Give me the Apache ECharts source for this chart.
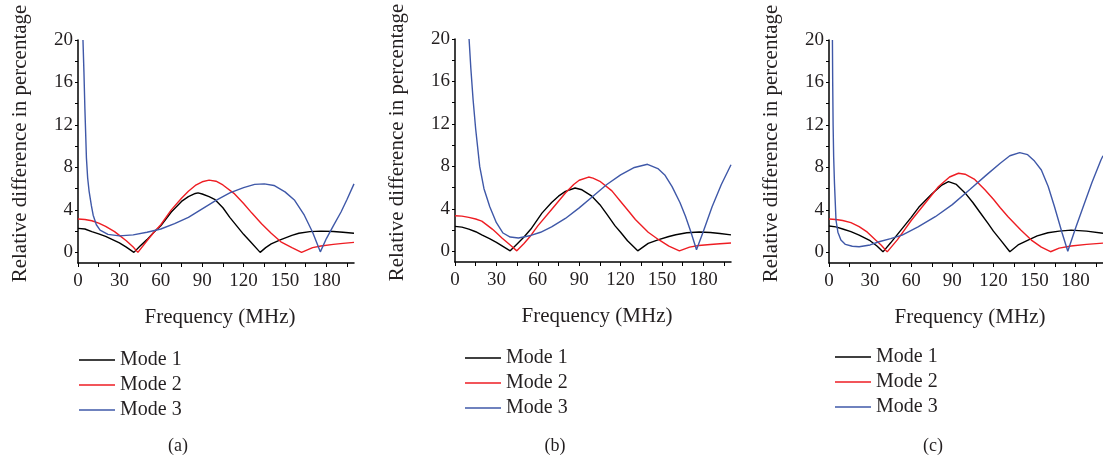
<!DOCTYPE html>
<html>
<head>
<meta charset="utf-8">
<script src="https://cdn.jsdelivr.net/npm/echarts@6/dist/echarts.min.js"></script>
<style>
html,body{margin:0;padding:0;background:#fff;}
#chart{width:1103px;height:464px;}
</style>
</head>
<body>
<div id="chart"></div>
<script>
// Tick labels
const xLabelValues = [0, 30, 60, 90, 120, 150, 180];
const xTickValues = [0, 15, 30, 45, 60, 75, 90, 105, 120, 135, 150, 165, 180, 195];
const yLabelValues = [0, 4, 8, 12, 16, 20];
const yTickValues = [0, 2, 4, 6, 8, 10, 12, 14, 16, 18, 20];
const seriesNames = ['Mode 1', 'Mode 2', 'Mode 3'];
const panelLabels = ['(a)', '(b)', '(c)'];

// Panel (a)  [frequency MHz, relative difference %]
const aMode1 = [[0,2.26],[5,2.2],[10,1.95],[15,1.75],[20,1.5],[25,1.2],[30,0.9],[35,0.5],[40.5,0],[45,0.6],[50,1.2],[55,1.9],[60,2.5],[67.6,3.8],[75,4.8],[80,5.25],[85,5.55],[87,5.6],[90,5.5],[95,5.25],[99,5.0],[105,4.2],[110,3.3],[115,2.5],[120,1.7],[125,1.0],[132,0],[136,0.45],[140,0.8],[147,1.2],[155,1.6],[160,1.8],[168,1.95],[176,2.0],[185,1.97],[192,1.9],[200,1.8]];
const aMode2 = [[0,3.14],[5,3.1],[10,2.98],[15,2.75],[20,2.45],[26.5,1.95],[30,1.6],[35,1.1],[40,0.5],[43.4,0],[50,1.1],[55,1.9],[60,2.6],[67.6,4.0],[75,5.1],[80,5.75],[85,6.3],[90,6.65],[95,6.8],[100,6.7],[105,6.35],[113,5.56],[120,4.6],[126,3.7],[133,2.7],[140,1.8],[147,1.0],[155,0.45],[162,0],[170,0.45],[176,0.6],[185,0.75],[192,0.85],[200,0.94]];
const aMode3 = [[3.6,20],[4.3,17],[5.0,13.5],[5.6,11],[6.1,8.9],[7,7.0],[8,5.8],[9.7,4.4],[11,3.5],[13.3,2.6],[16,2.1],[21.7,1.7],[30,1.55],[40,1.65],[50,1.9],[60,2.2],[70,2.7],[80,3.3],[90,4.1],[100,4.9],[110,5.6],[120,6.1],[128,6.4],[135,6.45],[142,6.3],[150,5.7],[157,4.9],[164,3.5],[170,1.9],[175.6,0.05],[180,1.3],[185,2.5],[190.6,3.8],[195,5.0],[200,6.45]];

// Panel (b)
const bMode1 = [[0,2.35],[5,2.28],[10,2.1],[15,1.85],[19.4,1.55],[25,1.2],[30,0.85],[35,0.45],[40,0.05],[45,0.7],[50,1.35],[55,2.1],[63,3.6],[70,4.6],[75,5.2],[80,5.65],[87,5.97],[92,5.8],[99.2,5.2],[105,4.4],[110,3.5],[116,2.4],[120,1.8],[125,1.0],[132.4,0.05],[140,0.75],[147.6,1.1],[155,1.4],[160,1.57],[168,1.75],[177,1.83],[185,1.78],[192,1.68],[200,1.55]];
const bMode2 = [[0,3.36],[5,3.32],[10,3.2],[15,3.05],[19.4,2.85],[23,2.5],[27,2.1],[30,1.75],[34,1.26],[40,0.6],[44.8,0.05],[50,0.75],[55,1.5],[60,2.4],[70,3.95],[80,5.5],[86,6.3],[90,6.7],[96.8,7.0],[100,6.9],[105,6.6],[113.7,5.7],[120,4.7],[126,3.75],[130.7,3.0],[140,1.8],[147.6,1.1],[155,0.5],[162.6,0.05],[170,0.4],[176.6,0.55],[185,0.65],[192,0.72],[200,0.79]];
const bMode3 = [[10.2,20],[11.5,17.2],[13.1,14.3],[15,11.5],[17.9,8.0],[21,5.9],[25.2,4.2],[30,2.7],[34.8,1.73],[40,1.35],[46,1.26],[55,1.5],[62,1.8],[70,2.3],[80,3.1],[90,4.1],[100,5.2],[110,6.3],[120,7.2],[130,7.9],[139.5,8.2],[147,7.8],[152,7.2],[157.3,6.1],[163,4.6],[167,3.3],[171,1.8],[175,0.15],[180,1.9],[186.3,4.2],[193,6.3],[200,8.16]];

// Panel (c)
const cMode1 = [[0,2.48],[5,2.4],[10,2.2],[16,1.95],[22,1.63],[30,1.1],[35,0.6],[39.4,0.05],[45,0.9],[50,1.7],[55,2.5],[60,3.3],[65.5,4.24],[75,5.5],[82,6.3],[87.2,6.66],[93,6.4],[99.3,5.6],[105,4.7],[110,3.8],[116.2,2.7],[120,2.0],[125,1.2],[132,0.06],[138,0.7],[145.3,1.16],[152,1.55],[159.8,1.85],[168,2.0],[176.7,2.1],[188,2.0],[200,1.8]];
const cMode2 = [[0,3.14],[5,3.1],[10,3.0],[16,2.8],[22,2.42],[28,1.9],[34,1.16],[38,0.7],[42.5,0.05],[50,1.2],[55,2.1],[60,3.0],[70,4.6],[80,6.2],[88,7.1],[94.5,7.45],[99.3,7.36],[106,6.9],[113.8,5.9],[120,5.0],[125,4.2],[130.7,3.36],[140,2.1],[147.7,1.16],[155,0.5],[161.7,0.06],[168,0.4],[176.7,0.6],[188,0.75],[200,0.87]];
const cMode3 = [[2.5,20],[2.7,16],[3.0,12],[3.4,9],[4.0,6.5],[5.1,3.05],[6.5,1.9],[8.7,1.16],[12,0.75],[17,0.58],[22,0.53],[30,0.7],[36.5,1.0],[45,1.3],[53.4,1.63],[65,2.4],[77.6,3.36],[90,4.5],[103,5.94],[115,7.3],[125,8.4],[132,9.1],[139.2,9.4],[145,9.2],[150,8.6],[155,7.76],[160,6.2],[164.6,4.3],[170,1.9],[174.3,0.1],[180,2.3],[186.4,4.6],[192,6.6],[198.5,8.7],[200,9.1]];

const panels = [[aMode1, aMode2, aMode3], [bMode1, bMode2, bMode3], [cMode1, cMode2, cMode3]];
const colors = ['#000000', '#ee1d23', '#3f58a8'];
const serif = 'Liberation Serif';
const textColor = '#231f20';

const gridDefs = [
  {left: 78, right: 749, top: 40, bottom: 201},
  {left: 455, right: 372, top: 39, bottom: 202},
  {left: 829, right: -2, top: 40, bottom: 201}
];
const legendPos = [{left: 74, top: 345}, {left: 460, top: 343}, {left: 830, top: 342}];
const labelPos = [[178, 446], [555, 446], [933, 446]];

const grids = [], xAxes = [], yAxes = [], series = [], legends = [], graphics = [];
panels.forEach((pd, i) => {
  grids.push(Object.assign({containLabel: false}, gridDefs[i]));
  xAxes.push({
    type: 'value', gridIndex: i, min: 0, max: 200,
    name: 'Frequency (MHz)', nameLocation: 'middle', nameGap: 44,
    nameTextStyle: {fontFamily: serif, fontSize: 21, color: textColor, padding: [0, 0, 0, 8]},
    axisLine: {show: true, onZero: false, lineStyle: {color: '#000', width: 1.5}},
    axisTick: {show: true, inside: false, length: 4, customValues: xTickValues, lineStyle: {color: '#000', width: 1}},
    axisLabel: {customValues: xLabelValues, fontFamily: serif, fontSize: 19, color: textColor, margin: 9},
    splitLine: {show: false}
  });
  yAxes.push({
    type: 'value', gridIndex: i, min: -1, max: 20,
    name: 'Relative difference in percentage', nameLocation: 'middle', nameGap: 47,
    nameTextStyle: {fontFamily: serif, fontSize: 21, color: textColor, padding: [0, 0, 0, 16]},
    axisLine: {show: true, onZero: false, lineStyle: {color: '#000', width: 1.5}},
    axisTick: {show: true, inside: false, length: 3, customValues: yTickValues, lineStyle: {color: '#000', width: 1}},
    axisLabel: {customValues: yLabelValues, fontFamily: serif, fontSize: 19, color: textColor, margin: 5},
    splitLine: {show: false}
  });
  pd.forEach((d, k) => {
    series.push({
      type: 'line', name: seriesNames[k], xAxisIndex: i, yAxisIndex: i,
      data: d, showSymbol: false, symbol: 'none', smooth: false, clip: true,
      lineStyle: {color: colors[k], width: 1.4}, itemStyle: {color: colors[k]}
    });
  });
  legends.push({
    orient: 'vertical', left: legendPos[i].left, top: legendPos[i].top,
    data: seriesNames, itemWidth: 36, itemHeight: 18, itemGap: 5,
    icon: 'path://M0,0 L36,0 L36,1.5 L0,1.5 Z', symbolKeepAspect: true,
    selectedMode: false,
    textStyle: {fontFamily: serif, fontSize: 20, color: textColor}
  });
  graphics.push({
    type: 'text', x: labelPos[i][0], y: labelPos[i][1],
    style: {text: panelLabels[i], font: '18px "Liberation Serif"', fill: textColor, align: 'center', verticalAlign: 'middle'}
  });
});

const chart = echarts.init(document.getElementById('chart'), null, {renderer: 'canvas'});
chart.setOption({
  animation: false,
  backgroundColor: '#ffffff',
  color: colors,
  grid: grids, xAxis: xAxes, yAxis: yAxes, series: series, legend: legends,
  graphic: graphics
});
</script>
</body>
</html>
